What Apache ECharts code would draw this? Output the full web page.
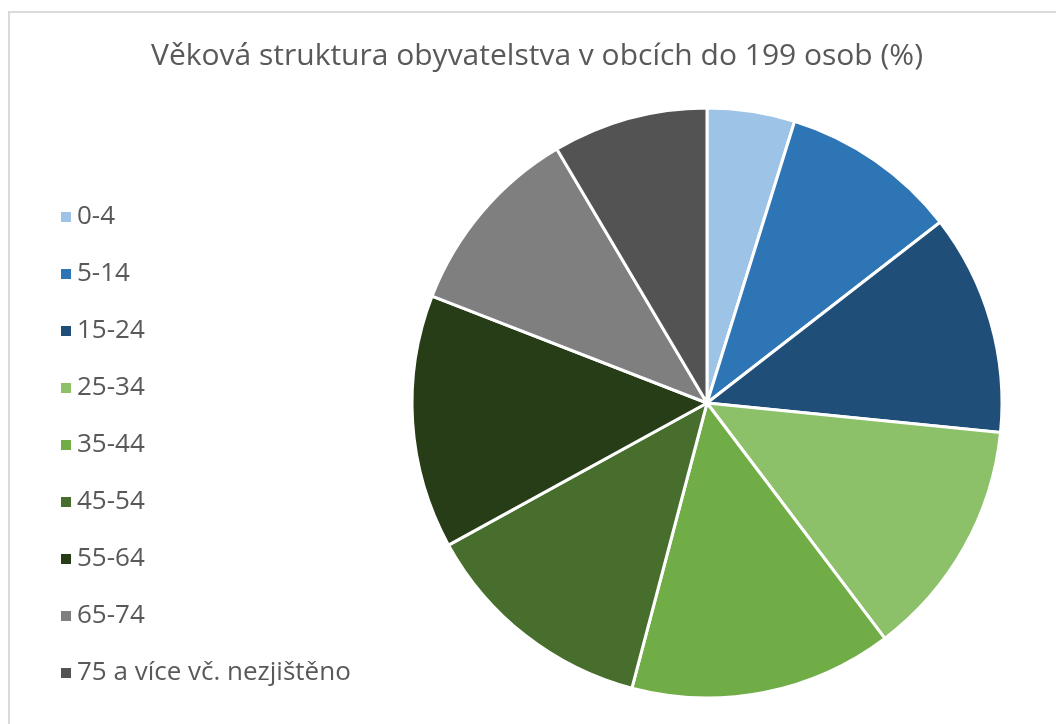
<!DOCTYPE html>
<html>
<head>
<meta charset="utf-8">
<script src="https://cdn.jsdelivr.net/npm/echarts@6/dist/echarts.min.js"></script>
<style>
  html, body { margin: 0; padding: 0; background: #fff; }
  #chart { width: 1056px; height: 724px; }
</style>
</head>
<body>
<div id="chart"></div>
<script>
const categories = ["0-4", "5-14", "15-24", "25-34", "35-44", "45-54", "55-64", "65-74", "75 a více vč. nezjištěno"];
const shares = [4.8, 9.7, 12.1, 13.1, 14.4, 12.9, 13.9, 10.6, 8.5];
const colors = ["#9DC3E6", "#2E75B6", "#1F4E79", "#8CC16A", "#70AD47", "#476E2D", "#263D17", "#7F7F7F", "#535353"];

const chart = echarts.init(document.getElementById("chart"), null, {
  renderer: "canvas",
});
const option = {
  animation: false,
  color: colors,
  title: {
    text: "Věková struktura obyvatelstva v obcích do 199 osob (%)",
    left: "532",
    textAlign: "center",
    top: 36,
    textStyle: {
      fontFamily: "Open Sans",
      fontWeight: "normal",
      fontSize: 30,
      color: "#595959",
    },
  },
  graphic: [
    {
      type: "rect",
      shape: { x: 9, y: 12, width: 1060, height: 730 },
      style: { fill: "none", stroke: "#d9d9d9", lineWidth: 2 },
      silent: true,
    },
  ],
  legend: {
    orient: "vertical",
    left: 54,
    top: 199,
    icon: "rect",
    itemWidth: 12,
    itemHeight: 12,
    itemGap: 31,
    textStyle: {
      fontFamily: "Open Sans",
      fontSize: 26,
      color: "#595959",
      lineHeight: 26,
    },
  },
  series: [
    {
      type: "pie",
      center: [707, 403],
      radius: 295,
      startAngle: 90,
      clockwise: true,
      label: { show: false },
      labelLine: { show: false },
      itemStyle: { borderColor: "#fff", borderWidth: 3 },
      data: categories.map((name, i) => ({ name, value: shares[i] })),
    },
  ],
};
chart.setOption(option);
</script>
</body>
</html>
